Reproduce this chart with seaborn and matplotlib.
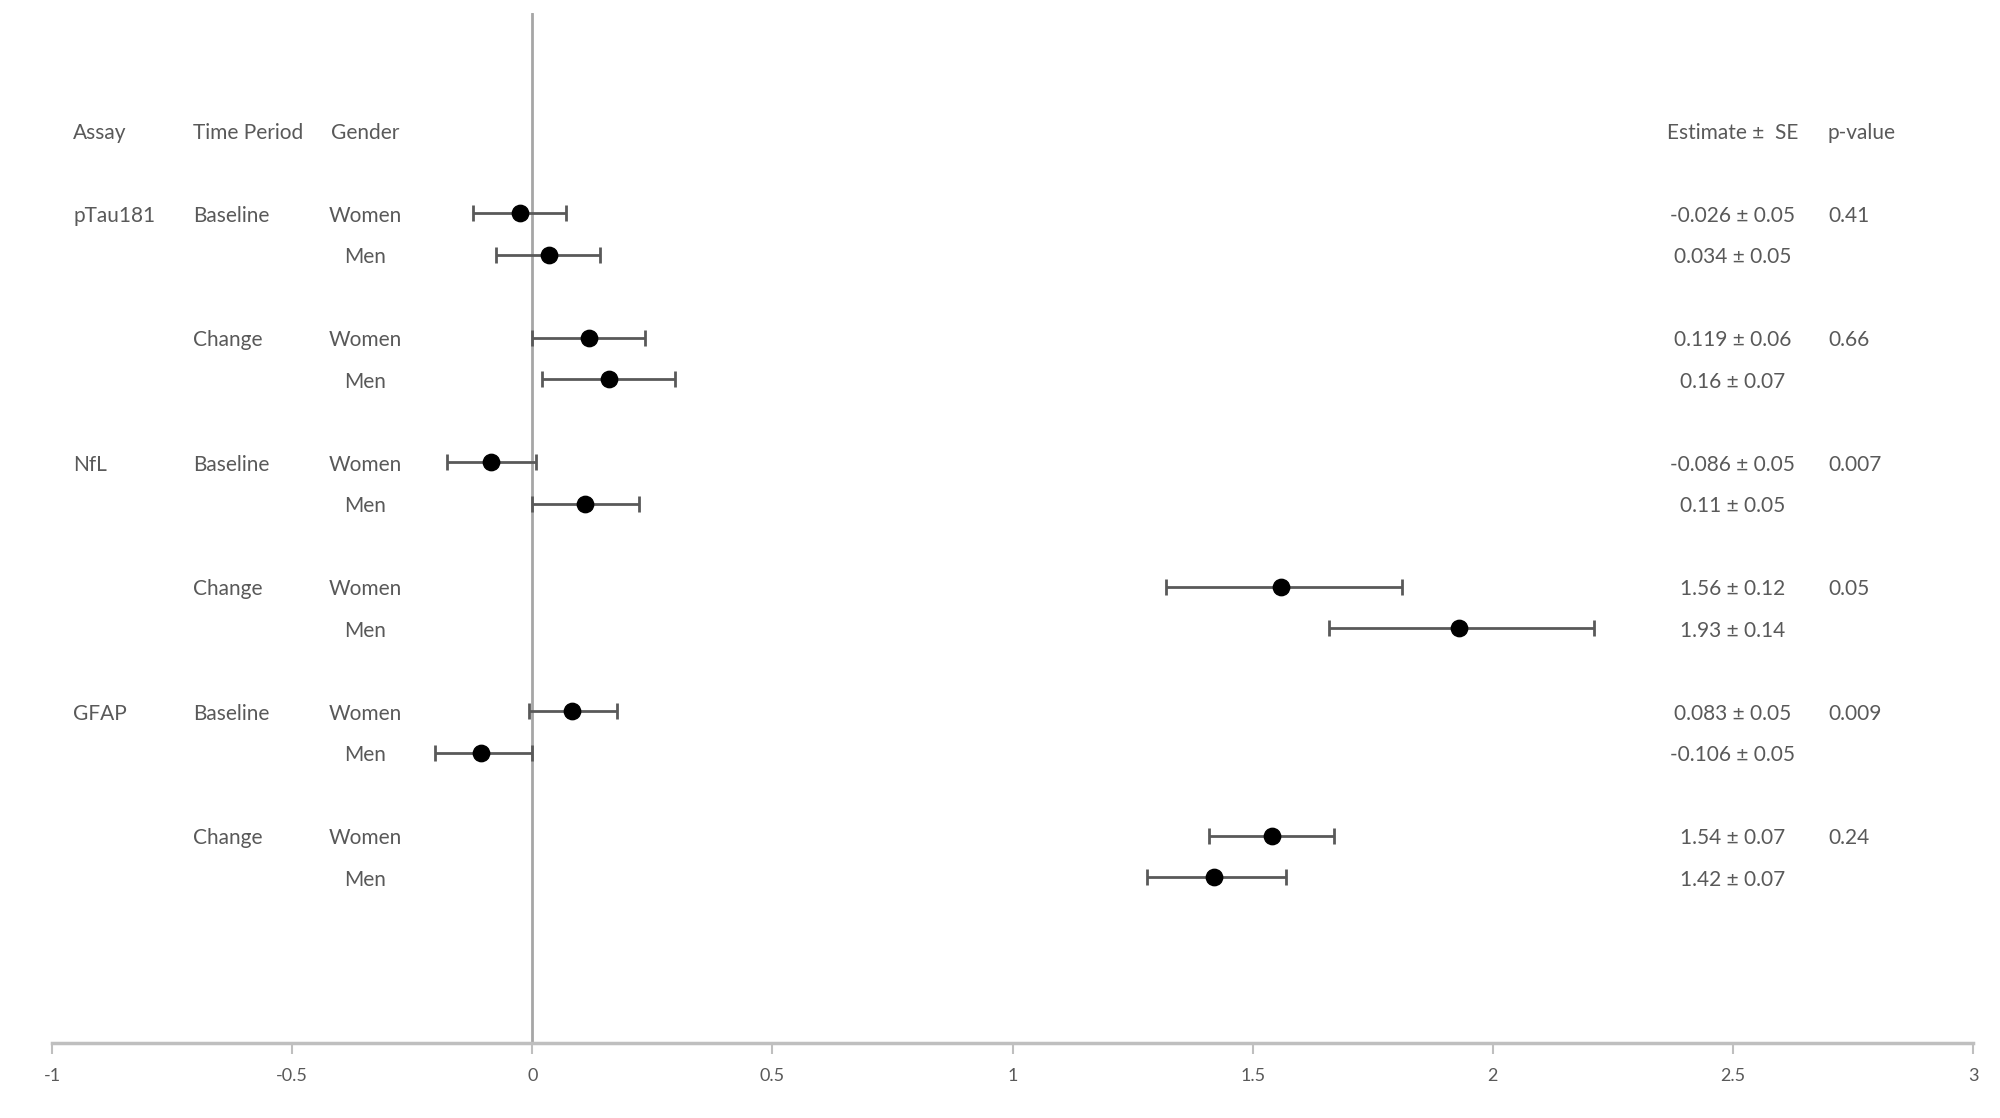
import pandas as pd
import matplotlib
matplotlib.use("Agg")
import matplotlib.pyplot as plt
import seaborn as sns

# values
assay = ["pTau181", "", "", "", "NfL", "", "", "", "GFAP", "", "", ""]
period = ["Baseline", "", "Change", "", "Baseline", "", "Change", "", "Baseline", "", "Change", ""]
gender = ["Women", "Men"] * 6
estimate = [-0.026, 0.034, 0.119, 0.16, -0.086, 0.11, 1.56, 1.93, 0.083, -0.106, 1.54, 1.42]
ci_low = [-0.124, -0.076, 0.0, 0.02, -0.177, 0.0, 1.32, 1.66, -0.007, -0.203, 1.41, 1.28]
ci_high = [0.07, 0.142, 0.235, 0.297, 0.007, 0.223, 1.81, 2.21, 0.177, 0.0, 1.67, 1.57]
est_se = ["-0.026 ± 0.05", "0.034 ± 0.05", "0.119 ± 0.06", "0.16 ± 0.07",
          "-0.086 ± 0.05", "0.11 ± 0.05", "1.56 ± 0.12", "1.93 ± 0.14",
          "0.083 ± 0.05", "-0.106 ± 0.05", "1.54 ± 0.07", "1.42 ± 0.07"]
p_value = ["0.41", "", "0.66", "", "0.007", "", "0.05", "", "0.009", "", "0.24", ""]
x_ticks = [-1, -0.5, 0, 0.5, 1, 1.5, 2, 2.5, 3]


def build_df() -> pd.DataFrame:
    df = pd.DataFrame({
        "Assay": assay, "Period": period, "Gender": gender,
        "Estimate": estimate, "Low": ci_low, "High": ci_high,
        "EstSE": est_se, "p": p_value,
    })
    # women on 3k, men on 3k+1, leaving a gap row between pairs
    df["row"] = [(i // 2) * 3 + (i % 2) for i in range(len(df))]
    return df


def main():
    df = build_df()
    sns.set_style("white")
    plt.rcParams["font.family"] = ["Lato", "DejaVu Sans"]
    txt = "#595959"

    fig = plt.figure(figsize=(20, 11.18), dpi=100)
    ax = fig.add_axes([0.026, 0.067, 0.9605, 0.921])

    ax.axvline(0, color="#a6a6a6", lw=2, zorder=1)
    ax.errorbar(df["Estimate"], df["row"],
                xerr=[df["Estimate"] - df["Low"], df["High"] - df["Estimate"]],
                fmt="none", ecolor="#595959", elinewidth=2, capsize=6, capthick=2, zorder=2)
    sns.scatterplot(data=df, x="Estimate", y="row", ax=ax, color="black",
                    s=140, edgecolor="black", zorder=3, legend=False)

    fs = 15
    dy = 0.06  # text sits a touch below the marker centre
    head_y = -2 + dy
    ax.text(-0.956, head_y, "Assay", ha="left", va="center", fontsize=fs, color=txt)
    ax.text(-0.706, head_y, "Time Period", ha="left", va="center", fontsize=fs, color=txt)
    ax.text(-0.348, head_y, "Gender", ha="center", va="center", fontsize=fs, color=txt)
    ax.text(2.5, head_y, "Estimate ±  SE", ha="center", va="center", fontsize=fs, color=txt)
    ax.text(2.698, head_y, "p-value", ha="left", va="center", fontsize=fs, color=txt)
    for _, r in df.iterrows():
        y = r["row"] + dy
        ax.text(-0.956, y, r["Assay"], ha="left", va="center", fontsize=fs, color=txt)
        ax.text(-0.706, y, r["Period"], ha="left", va="center", fontsize=fs, color=txt)
        ax.text(-0.348, y, r["Gender"], ha="center", va="center", fontsize=fs, color=txt)
        ax.text(2.5, y, r["EstSE"], ha="center", va="center", fontsize=fs, color=txt)
        ax.text(2.698, y, r["p"], ha="left", va="center", fontsize=fs, color=txt)

    ax.set_xlim(-1, 3)
    ax.set_ylim(20, -4.82)
    ax.set_xticks(x_ticks)
    ax.set_xticklabels([f"{t:g}" for t in x_ticks])
    ax.set_yticks([])
    ax.set_xlabel("")
    ax.set_ylabel("")
    for side in ["top", "right", "left"]:
        ax.spines[side].set_visible(False)
    ax.spines["bottom"].set_color("#bfbfbf")
    ax.spines["bottom"].set_linewidth(2.5)
    ax.tick_params(axis="x", bottom=True, direction="out", length=8, width=1.5,
                   color="#bfbfbf", labelsize=13, labelcolor=txt, pad=10)

    fig.savefig("out.png", dpi=100)


if __name__ == "__main__":
    main()
